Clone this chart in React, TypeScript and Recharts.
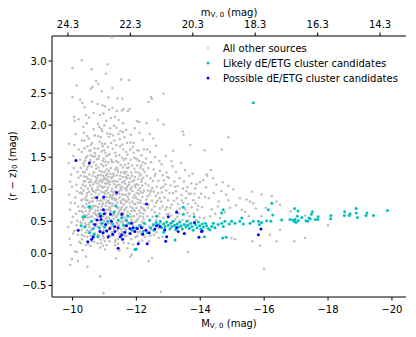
import { ScatterChart, Scatter, XAxis, YAxis } from 'recharts'

// [M_V,0, (r-z)_0]
const otherSources: number[][] = [
  [-9.87, 0.41], [-10.12, 1.07], [-9.94, 0.13], [-10.21, 0.66], [-10.03, 1.52], [-9.9, 0.92], [-10.17, 0.29], [-10.08, 0.78],
  [-9.96, 1.23], [-10.24, 1.46], [-10.01, 0.57], [-9.89, 1.71], [-10.14, 0.02], [-10.19, 1.18], [-10.06, 0.35], [-9.92, 0.68],
  [-10.23, 0.94], [-10.1, 1.86], [-9.98, -0.09], [-10.15, 0.51], [-10.04, 1.33], [-9.91, 0.23], [-10.2, 1.62], [-10.09, 0.87],
  [-9.99, 1.04], [-10.13, 0.44], [-10.22, 0.18], [-9.95, 0.79], [-10.07, 2.07], [-10.18, 0.73], [-9.88, 1.41], [-10.02, 0.31],
  [-10.16, 1.27], [-10.25, 0.49], [-9.93, 1.12], [-10.11, 0.62], [-10.0, 2.44], [-10.13, 2.62], [-10.0, 2.89], [-10.05, 2.13],
  [-9.93, -0.18], [-10.17, -0.12], [-10.08, 0.03], [-10.19, 2.09], [-10.24, 2.4], [-10.06, 1.69], [-9.97, 0.48], [-10.14, 0.97],

  [-10.31, 0.84], [-10.58, 0.27], [-10.44, 1.31], [-10.67, 0.63], [-10.29, 1.58], [-10.52, 0.96], [-10.72, 1.19], [-10.36, 0.41],
  [-10.61, 1.72], [-10.48, 0.55], [-10.27, 1.02], [-10.69, 0.88], [-10.55, 1.44], [-10.39, 0.71], [-10.63, 0.37], [-10.46, 1.83],
  [-10.74, 0.52], [-10.33, 1.27], [-10.57, 0.81], [-10.42, 0.13], [-10.71, 1.51], [-10.35, 0.98], [-10.64, 1.08], [-10.5, 0.33],
  [-10.28, 0.66], [-10.6, 1.35], [-10.45, 0.9], [-10.73, 0.74], [-10.38, 1.64], [-10.54, 0.48], [-10.66, 1.94], [-10.3, 0.22],
  [-10.49, 1.16], [-10.62, 0.58], [-10.41, 1.05], [-10.7, 0.31], [-10.34, 1.41], [-10.56, 0.69], [-10.68, 1.27], [-10.43, 0.44],
  [-10.26, 1.21], [-10.59, 0.92], [-10.47, 1.67], [-10.75, 0.99], [-10.37, 0.59], [-10.53, 1.23], [-10.65, 0.46], [-10.32, 0.05],
  [-10.51, 1.79], [-10.72, 0.67], [-10.4, 1.13], [-10.58, 1.53], [-10.44, 0.77], [-10.67, 1.42], [-10.29, 0.37], [-10.62, 0.86],
  [-10.5, 0.62], [-10.36, 1.88], [-10.74, 1.32], [-10.46, 0.26], [-10.55, 1.06], [-10.31, 0.73], [-10.69, 0.54], [-10.42, 1.49],
  [-10.6, 0.19], [-10.27, 0.95], [-10.53, 0.41], [-10.71, 1.11], [-10.39, 1.26], [-10.57, 1.61], [-10.47, 0.83], [-10.64, 0.73],
  [-10.33, 0.52], [-10.51, 1.37], [-10.73, 0.42], [-10.35, 1.12], [-10.61, 1.02], [-10.45, 2.03], [-10.68, 0.18], [-10.3, 1.76],
  [-10.56, 0.35], [-10.42, -0.05], [-10.47, -0.21], [-10.29, 3.01], [-10.61, 2.37], [-10.58, 2.57], [-10.6, 2.87], [-10.31, 2.35],
  [-10.43, 2.16], [-10.66, 2.19], [-10.63, 2.6], [-10.74, 2.69], [-10.34, 1.97], [-10.52, 2.12], [-10.7, 1.84], [-10.38, 2.28],
  [-10.66, 0.97], [-10.48, 1.01], [-10.32, 0.64], [-10.72, 0.86], [-10.54, 0.66], [-10.4, 0.86], [-10.63, 1.21], [-10.28, 0.47],
  [-10.57, 1.15], [-10.44, 0.59], [-10.69, 1.64], [-10.36, 1.37], [-10.52, 0.79], [-10.75, 0.6], [-10.41, 0.32], [-10.59, 0.49],
  [-10.49, 0.15],

  [-10.83, 0.92], [-11.12, 0.47], [-10.96, 1.36], [-11.21, 0.78], [-10.78, 1.18], [-11.05, 0.63], [-10.91, 1.59], [-11.17, 1.07],
  [-10.86, 0.39], [-11.09, 1.24], [-10.99, 0.84], [-11.24, 1.43], [-10.8, 0.67], [-11.14, 0.29], [-10.94, 1.02], [-11.02, 1.71],
  [-10.88, 0.54], [-11.19, 0.91], [-10.77, 1.47], [-11.07, 0.36], [-10.97, 1.14], [-11.23, 0.61], [-10.85, 1.29], [-11.1, 0.82],
  [-10.92, 0.73], [-11.16, 1.55], [-11.0, 0.49], [-10.81, 0.99], [-11.13, 1.19], [-10.95, 0.27], [-11.2, 1.33], [-10.89, 1.81],
  [-11.04, 0.97], [-10.79, 0.42], [-11.18, 0.7], [-10.98, 1.48], [-11.08, 1.09], [-10.84, 1.12], [-11.22, 0.42], [-10.93, 0.61],
  [-11.11, 1.66], [-10.87, 0.82], [-11.01, 1.27], [-11.15, 0.55], [-10.9, 1.39], [-11.24, 1.01], [-10.82, 0.29], [-11.06, 0.79],
  [-10.96, 0.58], [-11.19, 1.24], [-10.78, 0.83], [-11.12, 0.94], [-10.99, 1.61], [-11.03, 0.41], [-10.86, 1.06], [-11.21, 1.72],
  [-10.91, 0.44], [-11.16, 0.87], [-11.0, 1.18], [-10.8, 1.63], [-11.09, 0.56], [-10.95, 0.86], [-11.23, 0.33], [-10.88, 1.22],
  [-11.13, 1.42], [-10.97, 0.69], [-11.07, 1.31], [-10.83, 0.62], [-11.18, 1.12], [-10.93, 1.91], [-11.04, 0.74], [-10.79, 1.03],
  [-11.2, 0.52], [-10.98, 0.36], [-11.11, 1.03], [-10.85, 1.74], [-11.02, 0.93], [-11.15, 0.72], [-10.9, 0.96], [-11.25, 0.85],
  [-10.81, 1.34], [-11.06, 1.52], [-10.94, 0.77], [-11.17, 0.41], [-11.0, 1.04], [-10.87, 0.47], [-11.14, 1.29], [-10.96, 1.21],
  [-11.22, 0.97], [-10.77, 0.59], [-11.08, 0.68], [-10.92, 1.11], [-11.19, 1.86], [-11.03, 1.43], [-10.84, 0.77], [-11.1, 1.14],
  [-10.89, 0.68], [-11.24, 1.19], [-10.99, 0.51], [-11.13, 0.81], [-10.82, 1.48], [-11.05, 1.16], [-10.95, 1.67], [-11.2, 0.66],
  [-10.87, 0.09], [-11.02, 0.06], [-10.96, 0.12], [-11.16, 0.19], [-10.88, 0.21], [-10.79, 0.16], [-10.87, -0.36], [-10.97, -0.62],
  [-11.05, 2.8], [-11.1, 2.95], [-11.02, 2.29], [-11.13, 2.43], [-11.23, 3.37], [-11.25, 2.27], [-11.25, 2.58], [-10.92, 2.53],
  [-10.81, 2.64], [-10.79, 2.33], [-10.8, 2.02], [-11.0, 2.0], [-10.97, 2.18], [-11.18, 1.95], [-10.91, 1.94], [-11.09, 1.87],
  [-11.2, 2.11], [-10.86, 2.16], [-11.06, 2.07], [-10.94, 2.31], [-11.15, 2.24], [-10.84, 1.97], [-11.11, 0.24], [-10.93, 0.31],
  [-11.07, 0.13],

  [-11.31, 0.86], [-11.58, 0.47], [-11.42, 1.27], [-11.69, 0.72], [-11.27, 1.12], [-11.53, 0.99], [-11.38, 0.58], [-11.64, 1.38],
  [-11.46, 0.31], [-11.72, 1.05], [-11.34, 1.57], [-11.6, 0.63], [-11.49, 1.16], [-11.29, 0.42], [-11.67, 0.91], [-11.4, 0.79],
  [-11.55, 1.49], [-11.36, 1.03], [-11.62, 0.27], [-11.47, 0.67], [-11.74, 1.22], [-11.3, 0.61], [-11.57, 0.84], [-11.43, 1.42],
  [-11.7, 0.53], [-11.33, 1.31], [-11.51, 0.38], [-11.65, 1.09], [-11.39, 0.94], [-11.56, 1.7], [-11.28, 0.77], [-11.61, 0.76],
  [-11.45, 0.51], [-11.73, 0.88], [-11.35, 0.21], [-11.52, 1.26], [-11.68, 1.58], [-11.41, 1.12], [-11.59, 0.57], [-11.32, 0.97],
  [-11.48, 0.87], [-11.66, 0.43], [-11.37, 1.69], [-11.54, 0.72], [-11.71, 1.33], [-11.44, 0.64], [-11.26, 1.42], [-11.63, 1.01],
  [-11.5, 0.49], [-11.35, 0.74], [-11.58, 1.19], [-11.42, 0.36], [-11.69, 0.98], [-11.3, 1.21], [-11.55, 0.92], [-11.47, 1.53],
  [-11.73, 0.65], [-11.38, 0.84], [-11.61, 1.46], [-11.52, 0.59], [-11.29, 0.54], [-11.66, 0.81], [-11.4, 1.06], [-11.57, 0.33],
  [-11.44, 1.86], [-11.7, 1.17], [-11.33, 0.66], [-11.5, 1.02], [-11.62, 0.68], [-11.36, 1.44], [-11.75, 0.48], [-11.46, 0.93],
  [-11.27, 0.91], [-11.59, 1.62], [-11.41, 0.46], [-11.68, 0.37], [-11.53, 0.78], [-11.31, 1.76], [-11.64, 1.24], [-11.48, 0.26],
  [-11.37, -0.08], [-11.47, 0.04], [-11.72, 0.08], [-11.43, 0.15], [-11.6, 0.17], [-11.34, 0.13], [-11.41, 2.42], [-11.39, 2.22],
  [-11.52, 2.71], [-11.6, 2.25], [-11.55, 2.23], [-11.59, 2.03], [-11.73, 2.22], [-11.3, 1.99], [-11.33, 2.13], [-11.5, 1.91],
  [-11.68, 1.93], [-11.45, 2.08], [-11.63, 1.81], [-11.27, 1.84], [-11.56, 2.41], [-11.71, 1.72], [-11.38, 1.96], [-11.49, 1.67],
  [-11.65, 0.55], [-11.34, 1.13], [-11.56, 1.11], [-11.44, 0.71], [-11.7, 0.81], [-11.28, 0.28], [-11.61, 0.39], [-11.51, 1.38],
  [-11.39, 1.22], [-11.67, 1.48],

  [-11.81, 0.73], [-12.08, 0.44], [-11.93, 1.14], [-12.19, 0.88], [-11.77, 1.34], [-12.02, 0.61], [-11.88, 0.97], [-12.14, 1.23],
  [-11.97, 0.36], [-12.23, 0.69], [-11.84, 0.52], [-12.11, 1.02], [-11.91, 1.57], [-12.05, 0.79], [-11.79, 0.93], [-12.17, 0.49],
  [-11.95, 0.66], [-12.21, 1.31], [-11.86, 1.21], [-12.0, 1.08], [-12.13, 0.63], [-11.83, 0.31], [-12.09, 1.44], [-11.98, 0.87],
  [-12.24, 0.98], [-11.9, 0.43], [-12.06, 0.54], [-11.78, 1.11], [-12.16, 1.12], [-11.94, 1.32], [-12.03, 0.27], [-11.87, 0.81],
  [-12.2, 0.57], [-11.99, 1.48], [-12.12, 0.83], [-11.82, 1.46], [-12.07, 1.26], [-11.92, 0.58], [-12.22, 0.41], [-11.85, 1.03],
  [-12.01, 0.94], [-12.15, 0.72], [-11.96, 1.19], [-11.8, 0.62], [-12.1, 0.35], [-11.89, 1.66], [-12.18, 1.06], [-12.04, 1.61],
  [-11.76, 0.84], [-12.25, 0.77], [-11.93, 0.77], [-12.09, 0.67], [-11.84, 1.26], [-12.14, 0.96], [-11.97, 1.03], [-12.2, 1.42],
  [-11.88, 0.39], [-12.06, 1.16], [-11.81, -0.05], [-11.86, -0.02], [-11.96, 0.06], [-12.08, 0.18], [-11.9, 0.14], [-12.02, 2.06],
  [-12.09, 2.05], [-12.1, 1.88], [-12.2, 1.77], [-11.83, 1.85], [-11.92, 1.72], [-12.07, 1.6], [-11.77, 2.7], [-11.79, 2.25],
  [-12.16, 1.53], [-11.95, 1.95], [-12.24, 1.62], [-11.81, 1.62], [-12.03, 1.37], [-11.99, 0.5], [-12.13, 0.31], [-11.87, 0.71],
  [-12.22, 1.18], [-11.94, 0.91],

  [-12.31, 0.84], [-12.63, 0.52], [-12.44, 1.17], [-12.82, 0.73], [-12.28, 0.46], [-12.55, 0.96], [-12.91, 1.08], [-12.37, 1.33],
  [-12.7, 0.39], [-12.48, 0.68], [-12.96, 0.61], [-12.34, 0.58], [-12.6, 1.24], [-12.42, 0.92], [-12.77, 1.02], [-12.29, 1.09],
  [-12.66, 0.82], [-12.52, 0.43], [-12.88, 0.87], [-12.39, 0.76], [-12.74, 1.29], [-12.46, 1.42], [-12.99, 0.83], [-12.33, 1.21],
  [-12.58, 0.64], [-12.85, 0.55], [-12.41, 0.51], [-12.69, 1.13], [-12.5, 1.02], [-12.93, 0.98], [-12.27, 0.67], [-12.62, 0.79],
  [-12.45, 0.37], [-12.8, 0.95], [-12.36, 0.98], [-12.72, 0.62], [-12.54, 1.31], [-12.97, 1.19], [-12.3, 1.48], [-12.64, 1.04],
  [-12.49, 0.82], [-12.86, 1.14], [-12.4, 0.42], [-12.76, 0.48], [-12.57, 0.73], [-12.9, 0.47], [-12.35, 0.89], [-12.68, 0.94],
  [-12.43, 1.58], [-12.83, 1.22], [-12.59, 1.5], [-12.26, 1.27], [-12.73, 0.86], [-12.51, 0.57], [-12.95, 0.72], [-12.38, 1.06],
  [-12.65, 0.44], [-12.79, 1.39], [-12.47, 0.98], [-12.32, 2.03], [-12.38, 2.36], [-12.46, 2.44], [-12.49, 2.41], [-12.67, 2.08],
  [-12.85, 2.49], [-12.85, 2.01], [-12.38, -0.12], [-12.49, -0.07], [-12.77, -0.6], [-12.34, 1.62], [-12.53, 1.79], [-12.92, 1.52],
  [-12.72, 1.44], [-12.61, 1.68], [-12.42, 1.86], [-12.55, 0.29], [-12.89, 0.34], [-12.7, 0.24], [-12.4, 0.19],

  [-13.06, 0.71], [-13.44, 0.52], [-13.21, 1.04], [-13.78, 0.83], [-13.12, 0.48], [-13.56, 0.97], [-13.33, 0.62], [-13.91, 0.68],
  [-13.02, 1.18], [-13.67, 0.58], [-13.27, 0.86], [-13.49, 1.12], [-13.15, 0.94], [-13.84, 1.01], [-13.38, 0.41], [-13.62, 0.77],
  [-13.09, 0.59], [-13.72, 1.09], [-13.24, 1.27], [-13.53, 0.69], [-13.96, 0.87], [-13.3, 0.77], [-13.58, 0.44], [-13.18, 0.82],
  [-13.41, 0.91], [-13.87, 0.52], [-13.04, 0.94], [-13.65, 1.21], [-13.36, 1.17], [-13.8, 0.62], [-13.13, 1.36], [-13.47, 0.79],
  [-13.99, 1.11], [-13.22, 0.53], [-13.7, 0.93], [-13.4, 1.41], [-13.93, 0.74], [-13.59, 1.03], [-13.1, 1.44], [-13.15, 1.6],
  [-13.45, 1.9], [-13.48, 1.85], [-13.69, 1.69], [-13.21, 0.21], [-13.62, 0.02], [-13.29, 1.05], [-13.52, 1.3], [-13.76, 1.24],
  [-13.34, 0.49], [-13.08, 0.4], [-13.85, 0.78], [-13.63, 0.51], [-13.26, 0.67], [-13.98, 0.56],

  [-14.06, 0.72], [-14.31, 0.58], [-14.18, 1.03], [-14.58, 0.81], [-14.42, 0.94], [-14.12, 0.55], [-14.77, 0.64], [-14.27, 0.86],
  [-14.51, 1.07], [-14.09, 1.14], [-14.66, 0.97], [-14.36, 0.69], [-14.88, 0.83], [-14.22, 1.21], [-14.47, 0.62], [-14.71, 1.11],
  [-14.15, 0.88], [-14.93, 0.71], [-14.4, 1.17], [-14.62, 0.55], [-14.14, 1.61], [-14.2, 1.23], [-14.67, 1.62], [-14.88, 1.05],
  [-14.88, 1.81], [-14.98, 0.24], [-14.33, 1.3], [-14.81, 0.92], [-14.55, 0.73], [-14.03, 0.93],

  [-15.04, 1.0], [-15.09, 0.22], [-15.12, 0.75], [-15.24, 0.86], [-15.3, 0.68], [-15.4, 0.65], [-15.45, 0.84], [-15.52, 0.58],
  [-15.56, 0.81], [-15.61, 0.96], [-15.63, 0.19], [-15.66, 0.78], [-15.74, 0.7], [-15.87, 0.12], [-15.92, 0.92], [-15.92, 0.58],
  [-16.0, -0.24], [-16.05, 0.71], [-16.18, 0.29], [-16.24, 0.89], [-16.39, 0.81], [-16.39, 0.19], [-16.5, 0.76], [-16.5, 0.37],
  [-16.83, 0.66], [-16.94, 0.19], [-17.28, 0.59], [-17.28, 0.24], [-18.0, 0.44],
]

// extra sources filling the dense core of the cloud
const otherSourcesCore: number[][] = [
  [-10.35, 0.55], [-10.62, 0.99], [-10.81, 0.72], [-11.05, 1.38], [-11.29, 0.95], [-11.53, 0.63], [-11.77, 1.07], [-12.04, 0.85],
  [-10.44, 1.19], [-10.7, 0.43], [-10.93, 1.27], [-11.18, 0.52], [-11.41, 1.31], [-11.66, 0.69], [-11.91, 0.87], [-12.17, 1.15],
  [-10.28, 0.83], [-10.55, 0.57], [-10.78, 1.09], [-11.01, 0.66], [-11.24, 0.74], [-11.49, 1.21], [-11.72, 0.46], [-11.98, 1.27],
  [-12.23, 0.53], [-10.39, 1.45], [-10.64, 0.81], [-10.88, 0.34], [-11.12, 1.53], [-11.36, 0.57], [-11.6, 0.92], [-11.85, 0.66],
  [-12.11, 0.58], [-10.5, 0.73], [-10.74, 1.38], [-10.97, 0.95], [-11.22, 1.17], [-11.45, 0.44], [-11.69, 1.27], [-11.94, 0.49],
  [-12.2, 0.94], [-10.33, 1.07], [-10.59, 0.38], [-10.83, 1.52], [-11.07, 0.88], [-11.3, 0.38], [-11.55, 1.04], [-11.79, 0.79],
  [-12.05, 1.07], [-10.46, 0.94], [-10.71, 0.62], [-10.95, 1.44], [-11.17, 0.64], [-11.4, 0.71], [-11.64, 0.52], [-11.88, 1.12],
  [-12.14, 0.44], [-10.29, 0.29], [-10.53, 1.6], [-10.77, 0.87], [-11.03, 1.09], [-11.26, 0.59], [-11.51, 0.81], [-11.75, 1.4],
  [-12.0, 0.71], [-10.41, 0.66], [-10.66, 1.26], [-10.9, 0.82], [-11.14, 1.11], [-11.38, 1.34], [-11.62, 0.84], [-11.86, 0.48],
  [-12.12, 1.33], [-10.37, 1.2], [-10.61, 0.7], [-10.85, 0.51], [-11.09, 0.99], [-11.33, 0.83], [-11.58, 1.34], [-11.82, 1.0],
  [-12.08, 0.93], [-10.52, 1.11], [-10.76, 0.46], [-10.99, 1.17], [-11.23, 0.88], [-11.47, 1.07], [-11.71, 0.6], [-11.96, 0.77],
  [-12.22, 0.62], [-10.3, 0.93], [-10.56, 1.46], [-10.8, 1.22], [-11.04, 0.54], [-11.28, 1.24], [-11.52, 0.69], [-11.76, 0.93],
  [-12.02, 0.52], [-10.43, 0.83], [-10.68, 0.74], [-10.92, 1.04], [-11.16, 0.78], [-11.39, 0.48], [-11.63, 1.13], [-11.87, 1.37],
  [-12.13, 0.79], [-10.26, 1.33], [-10.51, 0.45], [-10.75, 1.14], [-10.99, 0.41], [-11.21, 1.46], [-11.46, 0.97], [-11.7, 1.02],
  [-11.95, 1.06], [-10.47, 1.34], [-10.72, 0.95], [-10.96, 0.78], [-11.19, 0.47], [-11.43, 0.61], [-11.67, 1.19], [-11.92, 0.68],
  [-12.18, 0.71], [-10.34, 0.74], [-10.58, 1.12], [-10.82, 0.57], [-11.06, 1.22], [-11.31, 1.08], [-11.56, 0.5], [-11.8, 1.17],
  [-12.06, 0.99], [-10.4, 0.47], [-10.65, 1.51], [-10.89, 1.15], [-11.13, 0.68], [-11.37, 0.91], [-11.61, 1.27], [-11.84, 0.57],
  [-12.1, 1.21],
  [-10.36, 0.27], [-10.57, 0.12], [-10.79, 0.28], [-11.01, 0.19], [-11.2, 0.27], [-11.42, 0.23], [-11.63, 0.29], [-11.84, 0.22],
  [-12.05, 0.33], [-12.26, 0.26], [-10.46, 0.36], [-10.67, 0.24], [-10.9, 0.16], [-11.12, 0.36], [-11.33, 0.18], [-11.55, 0.34],
  [-11.76, 0.16], [-11.97, 0.25], [-12.18, 0.2], [-12.44, 0.28], [-12.63, 0.33], [-12.82, 0.26], [-10.27, 0.16], [-10.98, 0.24],
  [-11.69, 0.27],
  [-10.37, 1.76], [-10.58, 1.69], [-10.81, 1.83], [-11.03, 1.57], [-11.26, 1.63], [-11.48, 1.78], [-11.72, 1.54], [-11.93, 1.49],
  [-12.15, 1.37], [-10.47, 1.52], [-10.7, 1.56], [-10.92, 1.71], [-11.14, 1.82], [-11.37, 1.52], [-11.58, 1.89], [-11.82, 1.73],
  [-12.04, 1.46], [-12.28, 1.4],
  [-12.36, 0.71], [-12.52, 1.13], [-12.68, 0.58], [-12.84, 1.04], [-13.01, 0.62], [-13.19, 1.12], [-13.36, 0.7], [-13.55, 0.86],
  [-13.73, 0.72], [-12.44, 0.96], [-12.61, 0.9], [-12.78, 0.81], [-12.94, 1.26], [-13.11, 0.76], [-13.28, 0.57], [-13.46, 1.01],
  [-13.64, 0.93], [-13.82, 0.93], [-12.57, 1.21], [-12.74, 0.7], [-12.91, 0.68], [-13.07, 1.06], [-13.24, 0.97], [-13.42, 0.83],
  [-13.6, 0.63], [-13.88, 1.08],
]

const likelyCandidates: number[][] = [
  [-10.52, 0.72], [-10.55, 0.73], [-10.39, 0.57], [-10.6, 0.5], [-10.39, 0.41], [-10.65, 0.39], [-10.54, 0.32], [-10.8, 0.26],
  [-11.36, 0.74], [-11.74, 0.58], [-11.69, 0.51], [-11.43, 0.52], [-11.54, 0.55], [-12.0, 0.4], [-12.11, 0.43], [-12.21, 0.34],
  [-12.34, 0.32], [-12.42, 0.52], [-12.53, 0.45], [-12.63, 0.58], [-12.0, 0.07], [-11.96, 0.06], [-13.21, 0.21], [-10.33, 0.57],
  [-10.27, 0.43], [-10.93, 0.47], [-10.84, 0.4], [-11.0, 0.41], [-11.1, 0.5], [-11.26, 0.46], [-11.6, 0.44], [-11.78, 0.47],
  [-11.86, 0.36], [-12.25, 0.47], [-12.45, 0.4], [-10.85, 0.62], [-11.3, 0.64], [-10.68, 0.3],
  [-12.55, 0.36], [-12.62, 0.48], [-12.85, 0.33],
  [-12.7, 0.45], [-12.75, 0.5], [-12.8, 0.4], [-12.85, 0.46], [-12.9, 0.42], [-12.95, 0.49], [-13.0, 0.44], [-13.05, 0.38],
  [-13.08, 0.47], [-13.12, 0.42], [-13.15, 0.5], [-13.2, 0.44], [-13.23, 0.37], [-13.28, 0.46], [-13.32, 0.41], [-13.36, 0.49],
  [-13.4, 0.43], [-13.44, 0.38], [-13.47, 0.72], [-13.47, 0.61], [-13.5, 0.45], [-13.55, 0.41], [-13.58, 0.5], [-13.62, 0.44],
  [-13.66, 0.39], [-13.7, 0.47], [-13.74, 0.42], [-13.78, 0.36], [-13.81, 0.57], [-13.85, 0.45], [-13.9, 0.4], [-13.94, 0.49],
  [-13.98, 0.43], [-14.02, 0.38], [-14.06, 0.46], [-14.1, 0.41], [-14.13, 0.26], [-14.16, 0.47], [-14.2, 0.43], [-14.25, 0.39],
  [-14.3, 0.37], [-14.36, 0.42], [-14.41, 0.47], [-14.46, 0.4], [-14.56, 0.45], [-14.67, 0.47], [-14.72, 0.42], [-14.77, 0.5],
  [-14.67, 0.63], [-14.72, 0.68], [-14.81, 0.25], [-14.7, 0.24], [-14.91, 0.46], [-14.98, 0.5], [-15.09, 0.47], [-15.24, 0.5],
  [-15.3, 0.55], [-15.35, 0.46], [-15.56, 0.47], [-15.66, 0.5], [-15.82, 0.5], [-15.92, 0.48], [-15.85, 0.45], [-16.08, 0.51],
  [-16.21, 0.5], [-16.27, 0.6], [-16.55, 0.52], [-16.13, 0.68], [-16.24, 0.78],
  [-16.81, 0.53], [-16.9, 0.52], [-16.97, 0.53], [-16.94, 0.5], [-17.0, 0.48], [-17.07, 0.51], [-16.95, 0.7], [-17.06, 0.66],
  [-17.51, 0.65], [-17.48, 0.61], [-17.04, 0.58], [-17.18, 0.56], [-17.4, 0.55], [-17.44, 0.54], [-17.31, 0.51], [-17.37, 0.5],
  [-17.6, 0.53], [-17.68, 0.53], [-17.69, 0.57], [-18.09, 0.59], [-18.08, 0.54], [-18.52, 0.65], [-18.51, 0.59], [-18.69, 0.62],
  [-18.66, 0.59], [-18.88, 0.7], [-18.88, 0.63], [-18.92, 0.56], [-19.22, 0.63], [-19.19, 0.59], [-19.42, 0.59], [-19.86, 0.67],
  [-15.66, 2.35],
]

const possibleCandidates: number[][] = [
  [-10.11, 1.45], [-10.53, 1.41], [-10.76, 0.87], [-10.98, 0.88], [-11.38, 0.95], [-12.32, 0.77], [-10.97, 0.68], [-11.19, 0.61],
  [-11.55, 0.61], [-10.88, 0.58], [-13.0, 0.57], [-10.77, 0.52], [-10.9, 0.53], [-11.33, 0.42], [-11.17, 0.39], [-11.43, 0.4],
  [-11.04, 0.45], [-11.69, 0.43], [-11.8, 0.39], [-11.9, 0.4], [-12.03, 0.39], [-12.16, 0.4], [-12.63, 0.43], [-12.74, 0.42],
  [-12.58, 0.38], [-10.18, 0.36], [-10.86, 0.34], [-10.96, 0.32], [-11.07, 0.35], [-11.33, 0.34], [-11.54, 0.29], [-11.64, 0.33],
  [-11.8, 0.31], [-11.95, 0.34], [-12.3, 0.36], [-12.4, 0.32], [-12.89, 0.37], [-10.65, 0.26], [-10.6, 0.22], [-11.12, 0.26],
  [-11.5, 0.26], [-11.57, 0.22], [-12.95, 0.26], [-12.92, 0.19], [-11.43, 0.08], [-12.06, 0.15], [-12.34, 0.15], [-10.48, 0.18],
  [-14.04, 0.34], [-15.9, 0.38], [-15.82, 0.29], [-13.26, 0.64], [-13.82, 0.48], [-13.26, 0.4], [-13.31, 0.34], [-13.5, 0.31],
  [-14.06, 0.35], [-13.96, 0.25], [-11.0, 0.62], [-11.22, 0.5], [-10.7, 0.45], [-11.26, 0.3], [-11.85, 0.47], [-12.2, 0.3],
]

const absTicks = [-20, -18, -16, -14, -12, -10]
const appTicks = [24.3, 22.3, 20.3, 18.3, 16.3, 14.3]
const colorTicks = [-0.5, 0, 0.5, 1, 1.5, 2, 2.5, 3]

const legendItems = [
  { label: 'All other sources', color: '#bfbfbf', r: 1 },
  { label: 'Likely dE/ETG cluster candidates', color: '#00bfbf', r: 1.5 },
  { label: 'Possible dE/ETG cluster candidates', color: '#0000ff', r: 1.5 },
]

const FONT = 'DejaVu Sans, sans-serif'
const minus = (s: string) => s.replace('-', '\u2212')

const toPoints = (arr: number[][]) => arr.map(([x, y]) => ({ x, y }))

const dot = (color: string, r: number) => (p: any) => (
  <circle cx={p.cx} cy={p.cy} r={r} fill={color} />
)

// tick labels: x comes from the axis scale, baseline fixed relative to the frame
const TopTick = ({ x, payload }: any) => (
  <text x={x} y={28} textAnchor="middle" fontFamily={FONT} fontSize={10} fill="#000">
    {payload.value.toFixed(1)}
  </text>
)

const BottomTick = ({ x, payload }: any) => (
  <text x={x} y={312.5} textAnchor="middle" fontFamily={FONT} fontSize={10} fill="#000">
    {minus(String(payload.value))}
  </text>
)

const LeftTick = ({ x, y, payload }: any) => (
  <text x={x} y={y + 3.6} textAnchor="end" fontFamily={FONT} fontSize={10} fill="#000">
    {minus(payload.value.toFixed(1))}
  </text>
)

// axis title with a subscript, e.g. M_{V,0}
const SubLabel = ({ x, y, main, sub, rest, rotate }: any) => (
  <text
    x={x}
    y={y}
    textAnchor="middle"
    dominantBaseline="central"
    fontFamily={FONT}
    fontSize={10}
    fill="#000"
    transform={rotate ? `rotate(-90 ${x} ${y})` : undefined}
  >
    {main}
    <tspan fontSize={7} dy={2.5}>{sub}</tspan>
    <tspan dy={-2.5}>{rest}</tspan>
  </text>
)

export default function App() {
  return (
    <div style={{ position: 'absolute', left: 0, top: 0, width: 416, height: 337, background: '#fff' }}>
      <ScatterChart width={416} height={337} margin={{ top: 0, right: 10, bottom: 0, left: 0 }}>
        <XAxis
          xAxisId="abs"
          type="number"
          dataKey="x"
          domain={[-20.44, -9.36]}
          reversed
          ticks={absTicks}
          tick={<BottomTick />}
          tickSize={3.5}
          tickLine={{ stroke: '#000' }}
          axisLine={{ stroke: '#000' }}
          height={40}
          allowDataOverflow
        />
        <XAxis
          xAxisId="app"
          orientation="top"
          type="number"
          dataKey="x"
          domain={[13.47, 24.81]}
          reversed
          ticks={appTicks}
          tick={<TopTick />}
          tickSize={3.5}
          tickLine={{ stroke: '#000' }}
          axisLine={{ stroke: '#000' }}
          height={36}
          allowDataOverflow
        />
        <YAxis
          yAxisId="c"
          type="number"
          dataKey="y"
          domain={[-0.68, 3.39]}
          ticks={colorTicks}
          tick={<LeftTick />}
          tickSize={3.5}
          tickLine={{ stroke: '#000' }}
          axisLine={{ stroke: '#000' }}
          width={52}
          allowDataOverflow
        />
        <YAxis
          yAxisId="frame"
          orientation="right"
          type="number"
          dataKey="y"
          domain={[-0.68, 3.39]}
          tick={false}
          tickLine={false}
          axisLine={{ stroke: '#000' }}
          width={0}
          allowDataOverflow
        />
        {/* invisible series so the top (apparent mag) axis and right spine get drawn */}
        <Scatter
          data={appTicks.map((v) => ({ x: v, y: colorTicks[1] }))}
          xAxisId="app"
          yAxisId="frame"
          shape={() => <g />}
          legendType="none"
          isAnimationActive={false}
        />
        <Scatter
          name="All other sources"
          data={toPoints([...otherSources, ...otherSourcesCore])}
          xAxisId="abs"
          yAxisId="c"
          shape={dot('#bdbdbd', 1.25)}
          isAnimationActive={false}
        />
        <Scatter
          name="Likely dE/ETG cluster candidates"
          data={toPoints(likelyCandidates)}
          xAxisId="abs"
          yAxisId="c"
          shape={dot('#00bfbf', 1.5)}
          isAnimationActive={false}
        />
        <Scatter
          name="Possible dE/ETG cluster candidates"
          data={toPoints(possibleCandidates)}
          xAxisId="abs"
          yAxisId="c"
          shape={dot('#0000ff', 1.5)}
          isAnimationActive={false}
        />
      </ScatterChart>

      {/* axis titles and legend */}
      <svg width={416} height={337} style={{ position: 'absolute', left: 0, top: 0, pointerEvents: 'none' }}>
        <SubLabel x={229} y={12} main="m" sub="V, 0" rest=" (mag)" />
        <SubLabel x={229} y={323} main="M" sub="V, 0" rest=" (mag)" />
        <SubLabel x={12} y={166} main="(r − z)" sub="0" rest=" (mag)" rotate />
        {legendItems.map((item, i) => (
          <g key={item.label}>
            <circle cx={208} cy={48 + i * 15} r={item.r} fill={item.color} />
            <text x={223} y={48 + i * 15} dominantBaseline="central" fontFamily={FONT} fontSize={10} fill="#000">
              {item.label}
            </text>
          </g>
        ))}
      </svg>
    </div>
  )
}
